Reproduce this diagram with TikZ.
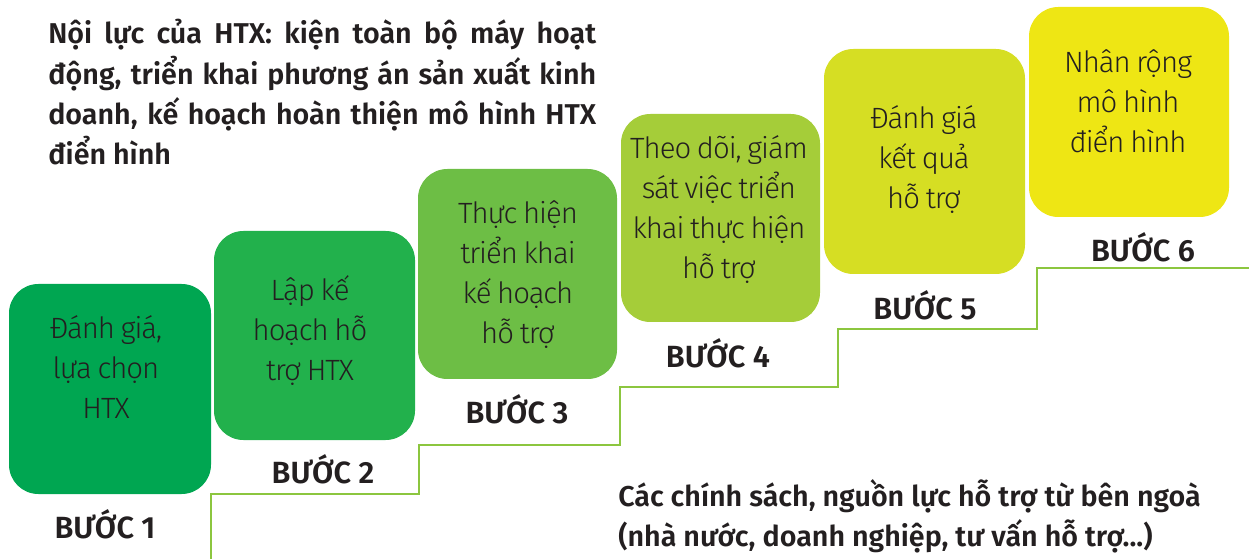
\documentclass[tikz,border=0pt]{standalone}
\usepackage{fontspec}
\setmainfont{Fira Sans}
\newfontfamily\lightf[LetterSpace=-3.5,WordSpace=0.8]{Fira Sans Light}
\newfontfamily\boldf{Fira Sans SemiBold}
\definecolor{cA}{HTML}{00A651}
\definecolor{cB}{HTML}{22B14C}
\definecolor{cC}{HTML}{6DBE45}
\definecolor{cD}{HTML}{A5CD39}
\definecolor{cE}{HTML}{D6DE23}
\definecolor{cF}{HTML}{EEE614}
\definecolor{ink}{HTML}{231F20}
\definecolor{stair}{HTML}{8CC63F}
\tikzset{
  stepbox/.style={draw=none, rounded corners=22pt, inner sep=0pt},
  boxtext/.style={align=center, inner sep=0pt, anchor=north, text=ink,
    font=\lightf\fontsize{22}{30}\selectfont},
  steplabel/.style={anchor=base, inner sep=0pt, text=ink,
    font=\boldf\fontsize{23}{30}\selectfont},
  para/.style={align=left, inner sep=0pt, anchor=north west, text=ink,
    font=\boldf\fontsize{21.5}{30}\selectfont},
  stairline/.style={draw=stair, line width=2.2pt},
}
\begin{document}
\begin{tikzpicture}[x=0.75pt,y=-0.75pt]
\useasboundingbox (0,0) rectangle (1249,559);
% boxes
\node[stepbox, fill=cA, minimum width=151.5pt, minimum height=157.5pt] (b1) at (110,389) {};
\node[stepbox, fill=cB, minimum width=150.75pt, minimum height=156.75pt] (b2) at (314.5,335.5) {};
\node[stepbox, fill=cC, minimum width=149.25pt, minimum height=157.5pt] (b3) at (517.5,274) {};
\node[stepbox, fill=cD, minimum width=149.25pt, minimum height=156pt] (b4) at (720.5,218) {};
\node[stepbox, fill=cE, minimum width=150.75pt, minimum height=168.75pt] (b5) at (924.5,161.5) {};
\node[stepbox, fill=cF, minimum width=150pt, minimum height=157.5pt] (b6) at (1129,112) {};
% box texts
\node[boxtext] (t1) at (106,310) {\strut Đánh giá,\\lựa chọn\\HTX};
\node[boxtext] (t2) at (310,272) {\strut Lập kế\\hoạch hỗ\\trợ HTX};
\node[boxtext] (t3) at (518,195) {\strut Thực hiện\\triển khai\\kế hoạch\\hỗ trợ};
\node[boxtext] (t4) at (719,130) {\strut Theo dõi, giám\\sát việc triển\\khai thực hiện\\hỗ trợ};
\node[boxtext] (t5) at (924,100) {\strut Đánh giá\\kết quả\\hỗ trợ};
\node[boxtext] (t6) at (1128,44) {\strut Nhân rộng\\mô hình\\điển hình};
% step labels
\node[steplabel] (l1) at (105,538) {BƯỚC 1};
\node[steplabel] (l2) at (323,483) {BƯỚC 2};
\node[steplabel] (l3) at (517,423) {BƯỚC 3};
\node[steplabel] (l4) at (718,368) {BƯỚC 4};
\node[steplabel] (l5) at (925,320) {BƯỚC 5};
\node[steplabel] (l6) at (1143,262) {BƯỚC 6};
% stair line
\draw[stairline] (211,559) -- (211,494) -- (419,494) -- (419,445) -- (620,445)
  -- (620,387) -- (838,387) -- (838,329) -- (1037,329) -- (1037,268) -- (1249,268);
% paragraphs
\node[para] (p1) at (48,15) {\strut\makebox[411pt][s]{Nội lực của HTX: kiện toàn bộ máy hoạt}\\
\makebox[411pt][s]{động, triển khai phương án sản xuất kinh}\\
\makebox[411pt][s]{doanh, kế hoạch hoàn thiện mô hình HTX}\\
điển hình};
\node[para] (p2) at (618,478) {\strut Các chính sách, nguồn lực hỗ trợ từ bên ngoà\\
(nhà nước, doanh nghiệp, tư vấn hỗ trợ...)};
\end{tikzpicture}
\end{document}
